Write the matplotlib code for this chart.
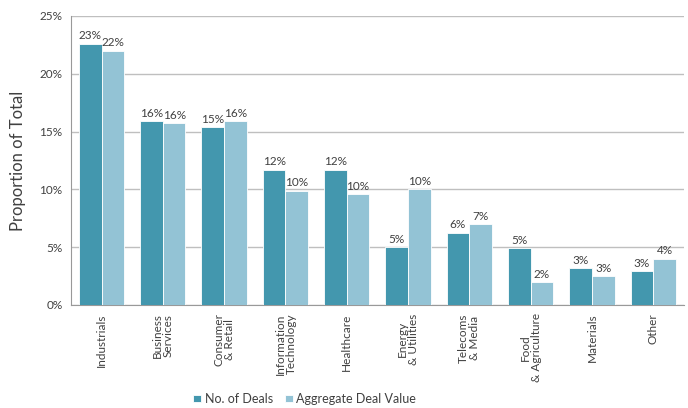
import numpy as np
import matplotlib
matplotlib.use("Agg")
from matplotlib import pyplot as plt

categories = ["Industrials", "Business\nServices", "Consumer\n& Retail",
              "Information\nTechnology", "Healthcare", "Energy\n& Utilities",
              "Telecoms\n& Media", "Food\n& Agriculture", "Materials", "Other"]
deals = [22.6, 15.9, 15.4, 11.7, 11.7, 5.0, 6.25, 4.9, 3.2, 2.95]
value = [22.0, 15.7, 15.9, 9.9, 9.6, 10.0, 7.0, 1.95, 2.5, 4.0]
deal_labels = ["23%", "16%", "15%", "12%", "12%", "5%", "6%", "5%", "3%", "3%"]
value_labels = ["22%", "16%", "16%", "10%", "10%", "10%", "7%", "2%", "3%", "4%"]

dark = "#4397ae"
light = "#93c3d5"
txt = "#404040"

plt.rcParams["font.family"] = ["Lato", "DejaVu Sans"]

fig = plt.figure(figsize=(6.88, 4.08), dpi=100)
ax = fig.add_axes([0.103, 0.2525, 0.891, 0.7085])

x = np.arange(len(categories))
w = 0.37
b1 = ax.bar(x - w / 2, deals, w, color=dark, edgecolor="white", linewidth=0.6,
            label="No. of Deals", zorder=3)
b2 = ax.bar(x + w / 2, value, w, color=light, edgecolor="white", linewidth=0.6,
            label="Aggregate Deal Value", zorder=3)

for rect, lab in zip(b1, deal_labels):
    ax.text(rect.get_x() + rect.get_width() / 2, rect.get_height() + 0.2, lab,
            ha="center", va="bottom", fontsize=8.5, color=txt)
for rect, lab in zip(b2, value_labels):
    ax.text(rect.get_x() + rect.get_width() / 2, rect.get_height() + 0.2, lab,
            ha="center", va="bottom", fontsize=8.5, color=txt)

ax.set_xlim(-0.5, len(categories) - 0.5)
ax.set_ylim(0, 25)
ax.set_yticks(np.arange(0, 26, 5))
ax.set_yticklabels([f"{v}%" for v in range(0, 26, 5)], fontsize=8.5, color=txt)
ax.set_xticks(x)
ax.set_xticklabels(categories, rotation=90, fontsize=8.5, color=txt,
                   ha="center", va="top", multialignment="center",
                   linespacing=1.0)
ax.tick_params(axis="x", length=0, pad=6)
ax.tick_params(axis="y", length=0, pad=6)
ax.grid(axis="y", color="#bfbfbf", linewidth=1, zorder=0)
ax.set_axisbelow(True)
for s in ["top", "right"]:
    ax.spines[s].set_visible(False)
ax.spines["left"].set_color("#999999")
ax.spines["bottom"].set_color("#999999")
ax.set_ylabel("Proportion of Total", fontsize=12, color=txt, labelpad=10)

leg = fig.legend(handles=[b1, b2], loc="lower center",
                 bbox_to_anchor=(0.443, -0.02), ncol=2, frameon=False,
                 fontsize=9, handlelength=0.6, handleheight=0.6,
                 handletextpad=0.3, columnspacing=1.0)
for t in leg.get_texts():
    t.set_color(txt)

fig.savefig("out.png", dpi=100)
